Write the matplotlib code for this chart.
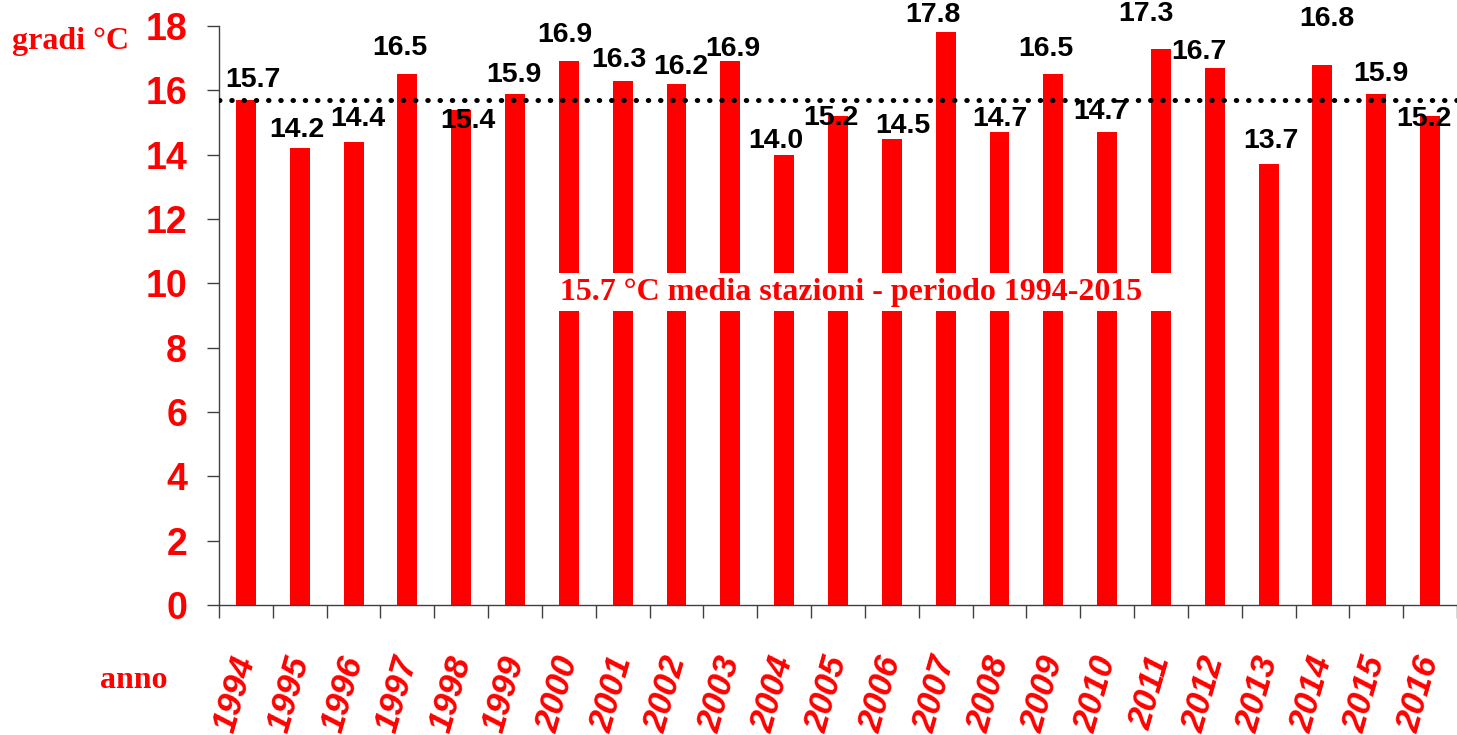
# annual mean temperature, bar chart
import matplotlib
matplotlib.use('Agg')
import matplotlib.pyplot as plt
from matplotlib.patches import Rectangle

years = [str(y) for y in range(1994, 2017)]
temps = [15.7, 14.2, 14.4, 16.5, 15.4, 15.9, 16.9, 16.3, 16.2, 16.9, 14.0, 15.2,
         14.5, 17.8, 14.7, 16.5, 14.7, 17.3, 16.7, 13.7, 16.8, 15.9, 15.2]
mean_temp = 15.7
mean_text = '15.7 °C media stazioni - periodo 1994-2015'

# hand placed value labels (pixel offsets from bar top)
label_dx = [7, -3, 4, -8, 7, -1, -4, -4, 4, 2, -8, -7, 11, -13, 0, -7, -6, -15, -16, 2, 4, 5, -6]
label_dy = [20, 18, 23, 26, -11, 19, 26, 21, 17, 12, 14, -2, 13, 17, 13, 25, 20, 35, 16, 23, 46, 20, -3]

RED = '#ff0000'
sans = 'Liberation Sans'
serif = 'Liberation Serif'

fig = plt.figure(figsize=(14.57, 7.35), dpi=100)
ax = fig.add_axes([219 / 1457, 130 / 735, 1 - 219 / 1457, 579 / 735])

x = list(range(len(years)))
ax.bar(x, temps, width=0.37, color=RED, zorder=2)
ax.set_xlim(-0.5, len(years) - 0.5)
ax.set_ylim(0, 18)

ax.axhline(mean_temp, color='black', lw=3.6, linestyle=(0, (0.1, 2.35)),
           dash_capstyle='round', zorder=4)

for i, v in enumerate(temps):
    ax.annotate('%.1f' % v, xy=(i, v), xytext=(label_dx[i], label_dy[i]),
                textcoords='offset pixels', ha='center', va='center',
                fontsize=20.5, fontweight='bold', family=sans, color='black', zorder=5)

# white box behind the mean text
ax.add_patch(Rectangle((5.76, 9.14), 11.45, 1.18, facecolor='white',
                       edgecolor='none', zorder=3))
ax.text(5.84, 9.72, mean_text, ha='left', va='center', fontsize=23,
        fontweight='bold', family=serif, color=RED, zorder=6)

for s in ['top', 'right']:
    ax.spines[s].set_visible(False)
for s in ['left', 'bottom']:
    ax.spines[s].set_color('#404040')
    ax.spines[s].set_linewidth(1)

ax.set_yticks(range(0, 19, 2))
ax.tick_params(axis='y', length=9, width=1, color='#404040', pad=14,
               labelsize=27, labelcolor=RED)
for t in ax.get_yticklabels():
    t.set_fontweight('bold')
    t.set_family(sans)

ax.set_xticks(x)
ax.set_xticklabels(years, rotation=74, ha='right', va='center',
                   rotation_mode='anchor', fontsize=25, fontweight='bold',
                   fontstyle='italic', family=sans, color=RED)
ax.tick_params(axis='x', which='major', length=0, pad=37)
ax.set_xticks([i - 0.5 for i in range(len(years) + 1)], minor=True)
ax.tick_params(axis='x', which='minor', length=9, width=1, color='#404040')

fig.text(12 / 1457, 1 - 42 / 735, 'gradi °C', ha='left', va='center', fontsize=23,
         fontweight='bold', family=serif, color=RED)
fig.text(100 / 1457, 1 - 680 / 735, 'anno', ha='left', va='center', fontsize=23,
         fontweight='bold', family=serif, color=RED)

fig.savefig('out.png', dpi=100)
